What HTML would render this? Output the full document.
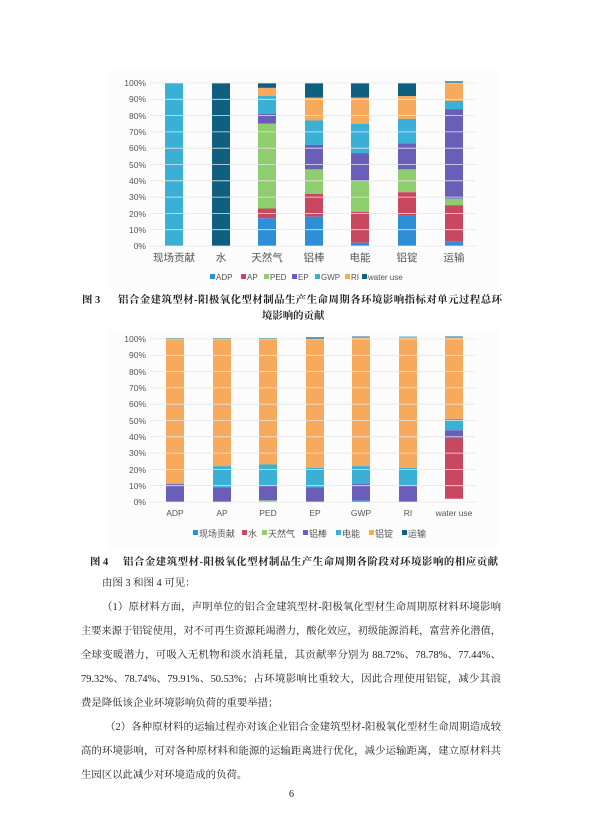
<!DOCTYPE html>
<html><head><meta charset="utf-8"><style>
body{margin:0;width:603px;height:839px;background:#fff;position:relative;overflow:hidden;font-family:"Liberation Serif","Noto Serif CJK SC","Noto Sans CJK SC",serif;color:#222}
.t{position:absolute;font-size:10.4px;white-space:nowrap;line-height:16px}
.j{text-align:justify;text-align-last:justify;white-space:normal}
svg{position:absolute;left:0;top:0}
svg text{font-family:"Liberation Sans","Noto Sans CJK SC",sans-serif;fill:#555}
</style></head><body>
<svg width="603" height="839" id="s">
<rect x="108" y="70" width="390" height="218" fill="#fcfcfc"/>
<rect x="108" y="330" width="390" height="218" fill="#fcfcfc"/>
<g font-size="8.5" text-anchor="end">
<text x="146" y="86">100%</text><text x="146" y="102">90%</text><text x="146" y="119">80%</text><text x="146" y="135">70%</text><text x="146" y="151">60%</text><text x="146" y="168">50%</text><text x="146" y="184">40%</text><text x="146" y="200">30%</text><text x="146" y="217">20%</text><text x="146" y="233">10%</text><text x="146" y="249">0%</text>
<text x="146" y="342">100%</text><text x="146" y="358">90%</text><text x="146" y="375">80%</text><text x="146" y="391">70%</text><text x="146" y="407">60%</text><text x="146" y="424">50%</text><text x="146" y="440">40%</text><text x="146" y="456">30%</text><text x="146" y="473">20%</text><text x="146" y="489">10%</text><text x="146" y="505">0%</text>
</g>
<g font-size="10.5" text-anchor="middle" fill="#444">
<text x="174" y="261">现场贡献</text><text x="221" y="261">水</text><text x="267" y="261">天然气</text><text x="314" y="261">铝棒</text><text x="360" y="261">电能</text><text x="407" y="261">铝锭</text><text x="454" y="261">运输</text>
</g>
<g font-size="8.5" text-anchor="middle">
<text x="175" y="516">ADP</text><text x="222" y="516">AP</text><text x="268" y="516">PED</text><text x="315" y="516">EP</text><text x="361" y="516">GWP</text><text x="408" y="516">RI</text><text x="454" y="516">water use</text>
</g>
<text x="216" y="280" font-size="8">ADP</text><text x="247" y="280" font-size="8">AP</text><text x="270" y="280" font-size="8">PED</text><text x="298" y="280" font-size="8">EP</text><text x="321" y="280" font-size="8">GWP</text><text x="351" y="280" font-size="8">RI</text><text x="368" y="280" font-size="8">water use</text>
<text x="199" y="537" font-size="9">现场贡献</text><text x="248" y="537" font-size="9">水</text><text x="268" y="537" font-size="9">天然气</text><text x="309" y="537" font-size="9">铝棒</text><text x="342" y="537" font-size="9">电能</text><text x="375" y="537" font-size="9">铝锭</text><text x="408" y="537" font-size="9">运输</text>
</svg>
<div class="t" style="left:82px;top:293px;font-weight:bold">图 3</div>
<div class="t j" style="left:118px;top:293px;width:384px;font-weight:bold">铝合金建筑型材-阳极氧化型材制品生产生命周期各环境影响指标对单元过程总环</div>
<div class="t" style="left:262px;top:309px;font-weight:bold">境影响的贡献</div>
<div class="t" style="left:90px;top:555px;font-weight:bold">图 4</div>
<div class="t j" style="left:123px;top:555px;width:375px;font-weight:bold">铝合金建筑型材-阳极氧化型材制品生产生命周期各阶段对环境影响的相应贡献</div>
<div class="t" style="left:102px;top:576px">由图 3 和图 4 可见：</div>
<div class="t j" style="left:102px;top:600px;width:399px">（1）原材料方面，声明单位的铝合金建筑型材-阳极氧化型材生命周期原材料环境影响</div>
<div class="t j" style="left:81px;top:624px;width:420px;font-size:10.2px">主要来源于铝锭使用，对不可再生资源耗竭潜力，酸化效应，初级能源消耗，富营养化潜值，</div>
<div class="t j" style="left:81px;top:648px;width:420px">全球变暖潜力，可吸入无机物和淡水消耗量，其贡献率分别为 88.72%、78.78%、77.44%、</div>
<div class="t j" style="left:81px;top:672px;width:420px">79.32%、78.74%、79.91%、50.53%；占环境影响比重较大，因此合理使用铝锭，减少其浪</div>
<div class="t" style="left:81px;top:696px">费是降低该企业环境影响负荷的重要举措；</div>
<div class="t j" style="left:105px;top:720px;width:396px">（2）各种原材料的运输过程亦对该企业铝合金建筑型材-阳极氧化型材生命周期造成较</div>
<div class="t j" style="left:81px;top:744px;width:420px">高的环境影响，可对各种原材料和能源的运输距离进行优化，减少运输距离，建立原材料共</div>
<div class="t" style="left:81px;top:768px">生园区以此减少对环境造成的负荷。</div>
<div class="t" style="left:289px;top:787px;font-size:10px">6</div>
<script>
var s=document.getElementById('s'),NS='http://www.w3.org/2000/svg';
function r(x,y,w,h,c){var e=document.createElementNS(NS,'rect');e.setAttribute('x',x);e.setAttribute('y',y);e.setAttribute('width',w);e.setAttribute('height',h);e.setAttribute('fill',c);s.insertBefore(e,s.children[2]);}
function l(x1,y,x2){var e=document.createElementNS(NS,'line');e.setAttribute('x1',x1);e.setAttribute('x2',x2);e.setAttribute('y1',y);e.setAttribute('y2',y);e.setAttribute('stroke','#e6e6e6');e.setAttribute('stroke-width','0.8');s.insertBefore(e,s.children[2]);}
var C=['#2e8fd6','#c8485f','#8fce6e','#6a5fb8','#3ab0d6','#f7a95c','#0e5f80'];
for(var i=0;i<=10;i++){l(150,246-16.3*i,475);l(150,502-16.3*i,475);}
function bars(base,cs,data){data.forEach(function(d,k){d.forEach(function(seg){var a=seg[0],b=seg[1];r(cs[k]-9,base-1.63*b,18,1.63*(b-a),C[seg[2]]);});});}
bars(246,[174,221,267,314,360,407,454],[
[[0,100,4]],[[0,100,6]],
[[0,17,0],[17,23,1],[23,75,2],[75,81,3],[81,92,4],[92,97,5],[97,100,6]],
[[0,18,0],[18,32,1],[32,47,2],[47,62,3],[62,77,4],[77,91,5],[91,100,6]],
[[0,2,0],[2,21,1],[21,40,2],[40,57,3],[57,75,4],[75,91,5],[91,100,6]],
[[0,19,0],[19,33,1],[33,47,2],[47,63,3],[63,78,4],[78,92,5],[92,100,6]],
[[0,3,0],[3,25,1],[25,29,2],[29,84,3],[84,89,4],[89,100,5],[100,101,6]]]);
bars(502,[175,222,268,315,361,408,454],[
[[0,11,3],[11,100,5],[100,100.5,6]],
[[0,9,3],[9,22,4],[22,100,5],[100,100.5,6]],
[[0,1,2],[1,10,3],[10,23,4],[23,100,5],[100,100.5,6]],
[[0,9,3],[9,21,4],[21,100,5],[100,101,6]],
[[0,1,0],[1,11,3],[11,22,4],[22,101,5],[101,101.5,6]],
[[0,10,3],[10,21,4],[21,101,5],[101,101.5,4]],
[[2,39,1],[39,44,3],[44,51,4],[51,101,5],[101,101.5,6]]]);
[210,241,264,292,315,345,362].forEach(function(x,k){r(x,274,5,5,C[k]);});
[193,242,262,303,336,369,402].forEach(function(x,k){r(x,530,5,5,C[k]);});
</script>
</body></html>
